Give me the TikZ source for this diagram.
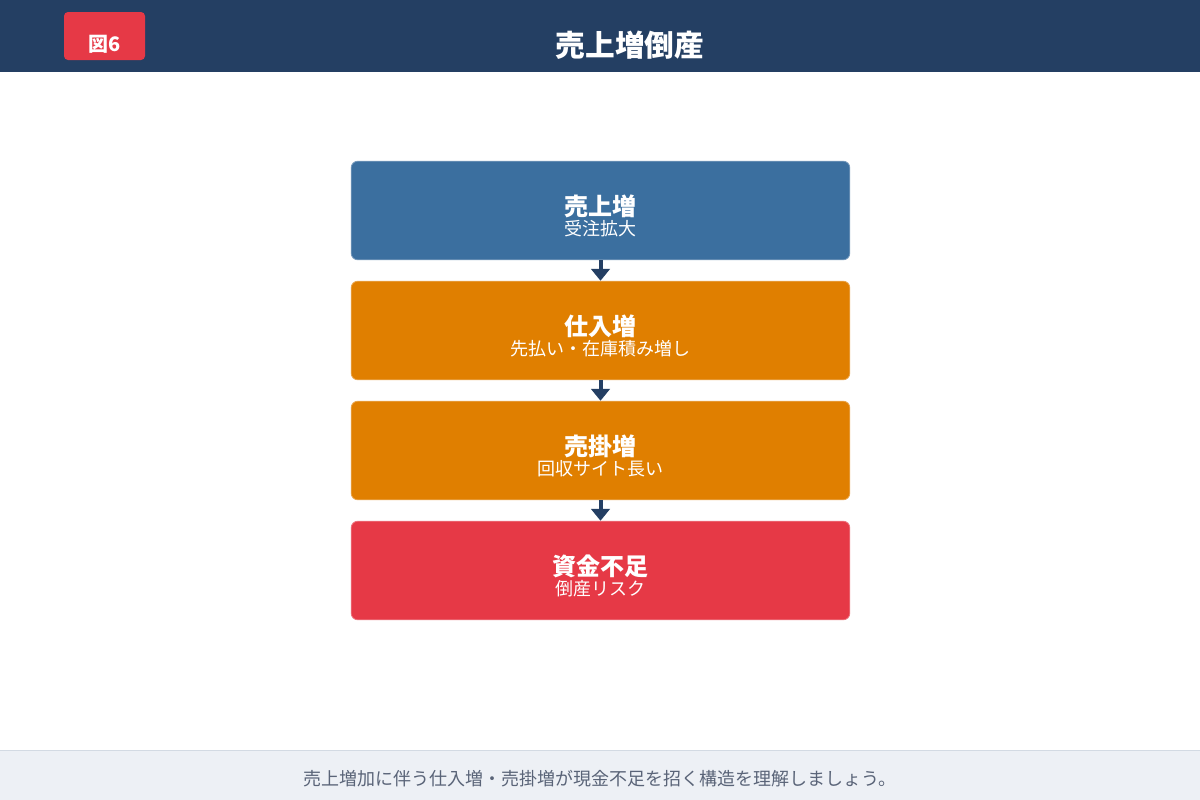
\documentclass[tikz,border=0pt]{standalone}
\usepackage{fontspec}
\setmainfont{Noto Sans CJK JP}
\usetikzlibrary{arrows.meta}
\definecolor{navy}{HTML}{243F63}
\definecolor{bluebox}{HTML}{3B6F9F}
\definecolor{orangebox}{HTML}{E07F00}
\definecolor{redbox}{HTML}{E63946}
\definecolor{footbg}{HTML}{EDF0F5}
\definecolor{footline}{HTML}{D3DAE3}
\definecolor{foottext}{HTML}{5A6478}
\tikzset{
  flowbox/.style={draw=#1!70!white, line width=0.6pt, fill=#1, rounded corners=5pt, minimum width=374pt, minimum height=74pt, inner sep=0pt},
  boxtitle/.style={text=white, font=\fontsize{18}{21}\selectfont\bfseries},
  boxsub/.style={text=white, font=\fontsize{13.5}{16}\selectfont},
  flowarrow/.style={draw=navy, line width=3pt, -{Triangle[width=14pt,length=9pt]}, shorten >=0pt}
}
\begin{document}
\begin{tikzpicture}[x=0.75pt,y=-0.75pt]
\useasboundingbox (0,0) rectangle (1200,800);
\fill[white] (0,0) rectangle (1200,800);
% header
\fill[navy] (0,0) rectangle (1200,72);
\node[fill=redbox, rounded corners=3pt, minimum width=60.75pt, minimum height=36pt, inner sep=0pt] (badge) at (104.5,36) {};
\node[text=white, font=\fontsize{15}{18}\selectfont\bfseries] (badgetext) at (104.5,44) {図6};
\node[text=white, font=\fontsize{22.25}{26}\selectfont\bfseries] (title) at (630,45) {売上増倒産};
% boxes
\node[flowbox=bluebox] (b1) at (600.5,210.5) {};
\node[flowbox=orangebox] (b2) at (600.5,330.5) {};
\node[flowbox=orangebox] (b3) at (600.5,450.5) {};
\node[flowbox=redbox] (b4) at (600.5,570.5) {};
\node[boxtitle] (t1) at (600,206) {売上増};
\node[boxsub] (s1) at (600,229) {受注拡大};
\node[boxtitle] (t2) at (600,326) {仕入増};
\node[boxsub] (s2) at (600,349) {先払い・在庫積み増し};
\node[boxtitle] (t3) at (600,446) {売掛増};
\node[boxsub] (s3) at (600,469) {回収サイト長い};
\node[boxtitle] (t4) at (600,566) {資金不足};
\node[boxsub] (s4) at (600,589) {倒産リスク};
% arrows
\draw[flowarrow] (b1.south) -- (b2.north);
\draw[flowarrow] (b2.south) -- (b3.north);
\draw[flowarrow] (b3.south) -- (b4.north);
% footer
\fill[footbg] (0,750) rectangle (1200,800);
\draw[footline, line width=0.75pt] (0,750) -- (1200,750);
\node[text=foottext, font=\fontsize{13.5}{16}\selectfont] (foot) at (600,779) {売上増加に伴う仕入増・売掛増が現金不足を招く構造を理解しましょう。};
\end{tikzpicture}
\end{document}
